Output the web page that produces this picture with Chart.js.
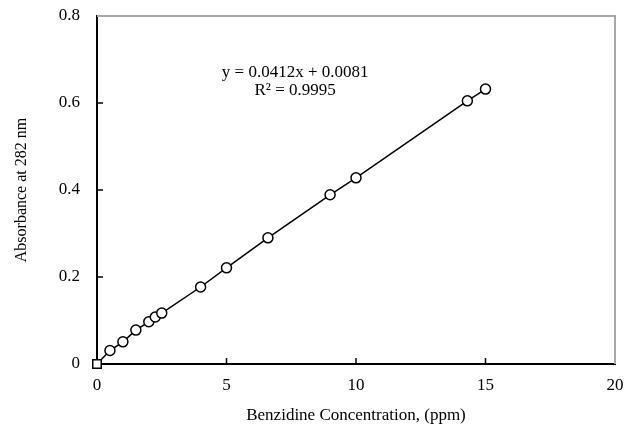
<!DOCTYPE html>
<html>
<head>
<meta charset="utf-8">
<script src="https://cdn.jsdelivr.net/npm/chart.js@4/dist/chart.umd.min.js"></script>
<style>
  html, body { margin: 0; padding: 0; background: #fff; }
  #wrap { width: 627px; height: 430px; }
</style>
</head>
<body>
<div id="wrap"><canvas id="calib" width="627" height="430"></canvas></div>
<script>
// courbe d'etalonnage
const concentration = [0, 0.5, 1, 1.5, 2, 2.25, 2.5, 4, 5, 6.6, 9, 10, 14.3, 15];
const absorbance = [0, 0.031, 0.051, 0.078, 0.097, 0.108, 0.117, 0.177, 0.221, 0.290, 0.389, 0.428, 0.605, 0.632];
const xTicks = [0, 5, 10, 15, 20];
const yTicks = [0, 0.2, 0.4, 0.6, 0.8];
const equation = ['y = 0.0412x + 0.0081', 'R\u00b2 = 0.9995'];

const serif = 'Liberation Serif, Times New Roman, serif';

// cadre gris en haut/droite + petits traits vers l'interieur
const framePlugin = {
  id: 'frame',
  afterDraw(chart) {
    const { ctx, chartArea: a, scales } = chart;
    ctx.save();
    ctx.strokeStyle = '#a8a8a8';
    ctx.lineWidth = 2;
    ctx.beginPath();
    ctx.moveTo(a.left, a.top);
    ctx.lineTo(a.right, a.top);
    ctx.lineTo(a.right, a.bottom);
    ctx.stroke();

    ctx.strokeStyle = '#000';
    ctx.lineWidth = 1.5;
    ctx.beginPath();
    xTicks.slice(1, -1).forEach(v => {
      const px = scales.x.getPixelForValue(v);
      ctx.moveTo(px, a.bottom);
      ctx.lineTo(px, a.bottom - 6);
    });
    yTicks.slice(1, -1).forEach(v => {
      const py = scales.y.getPixelForValue(v);
      ctx.moveTo(a.left, py);
      ctx.lineTo(a.left + 6, py);
    });
    ctx.stroke();

    ctx.fillStyle = '#000';
    ctx.font = '17px ' + serif;
    ctx.textAlign = 'center';
    ctx.textBaseline = 'middle';
    const tx = scales.x.getPixelForValue(7.65);
    const ty = scales.y.getPixelForValue(0.669);
    ctx.fillText(equation[0], tx, ty);
    ctx.fillText(equation[1], tx, ty + 18);
    ctx.restore();
  }
};

new Chart(document.getElementById('calib'), {
  type: 'scatter',
  data: {
    datasets: [{
      label: 'Absorbance',
      data: concentration.map((c, i) => ({ x: c, y: absorbance[i] })),
      showLine: true,
      clip: false,
      borderColor: '#000',
      borderWidth: 1.5,
      backgroundColor: 'rgba(0,0,0,0)',
      pointStyle: concentration.map(c => c === 0 ? 'rect' : 'circle'),
      pointRadius: concentration.map(c => c === 0 ? 6 : 5),
      pointBorderWidth: 1.5,
      pointBorderColor: '#000',
      pointBackgroundColor: '#fff'
    }]
  },
  options: {
    responsive: false,
    animation: false,
    devicePixelRatio: 1,
    layout: { padding: { top: 16, right: 12, left: 0, bottom: 0 } },
    plugins: {
      legend: { display: false },
      tooltip: { enabled: false }
    },
    scales: {
      x: {
        type: 'linear',
        min: 0,
        max: 20,
        afterBuildTicks: s => { s.ticks = xTicks.map(v => ({ value: v })); },
        afterFit: s => { s.height = 66; s.paddingLeft = 0; s.paddingRight = 0; },
        grid: { display: false, drawTicks: false },
        border: { display: true, color: '#000', width: 2 },
        ticks: { color: '#000', padding: 11, font: { family: serif, size: 17 } },
        title: {
          display: true,
          text: 'Benzidine Concentration, (ppm)',
          color: '#000',
          padding: { top: 0 },
          font: { family: serif, size: 17 }
        }
      },
      y: {
        type: 'linear',
        min: 0,
        max: 0.8,
        afterBuildTicks: s => { s.ticks = yTicks.map(v => ({ value: v })); },
        afterFit: s => { s.width = 97; s.paddingTop = 0; s.paddingBottom = 0; },
        grid: { display: false, drawTicks: false },
        border: { display: true, color: '#000', width: 2 },
        ticks: {
          color: '#000',
          padding: 17,
          font: { family: serif, size: 17 },
          callback: v => String(Math.round(v * 10) / 10)
        },
        title: {
          display: true,
          text: 'Absorbance at 282 nm',
          color: '#000',
          padding: { top: 12, bottom: 0 },
          font: { family: serif, size: 16 }
        }
      }
    }
  },
  plugins: [framePlugin]
});
</script>
</body>
</html>
